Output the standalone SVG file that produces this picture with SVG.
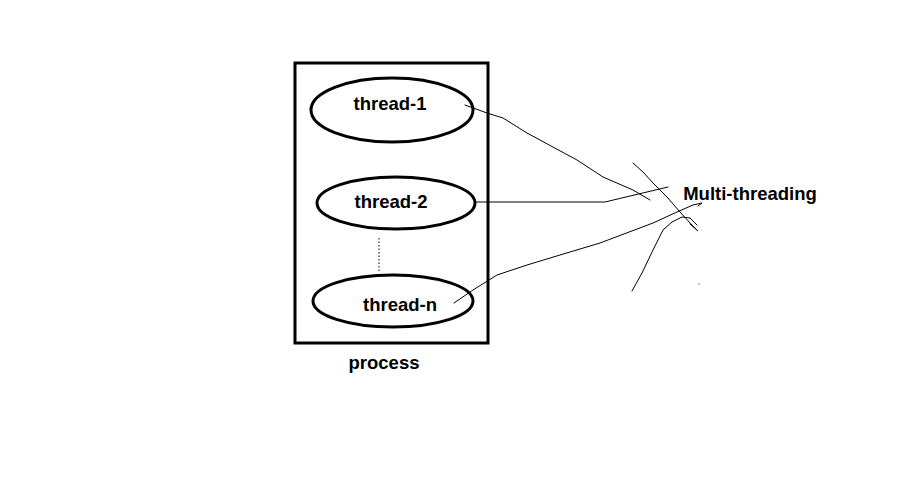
<svg xmlns="http://www.w3.org/2000/svg" width="918" height="498" viewBox="0 0 918 498">
<style>
.box{fill:none;stroke:#000;stroke-width:3}
.th{fill:#fff;stroke:#000;stroke-width:3}
.lbl{font-family:"Liberation Sans",Arial,sans-serif;font-weight:bold;font-size:18.5px;fill:#000;text-anchor:middle}
.ln{fill:none;stroke:#000;stroke-width:1;stroke-linejoin:round;stroke-linecap:round}
</style>
<rect width="918" height="498" fill="#fff"/>
<g id="process">
<rect class="box" x="295" y="63" width="193" height="280"/>
<text class="lbl" x="384" y="369">process</text>
</g>
<g id="thread-1">
<ellipse class="th" cx="392" cy="110" rx="81" ry="32"/>
<text class="lbl" x="390" y="110">thread-1</text>
</g>
<g id="thread-2">
<ellipse class="th" cx="396" cy="203" rx="79" ry="26"/>
<text class="lbl" x="391" y="208">thread-2</text>
</g>
<g id="thread-n">
<ellipse class="th" cx="393" cy="301" rx="80" ry="26"/>
<text class="lbl" x="400" y="311">thread-n</text>
</g>
<g id="multi-threading">
<text class="lbl" x="750" y="200">Multi-threading</text>
</g>
<g id="connectors">
<line x1="379" y1="238" x2="379" y2="273" stroke="#000" stroke-width="1" stroke-dasharray="1.5,2"/>
<polyline class="ln" points="465,105 487,113 503,118 527,133 577,160 603,177 633,190 650,200"/>
<polyline class="ln" points="475,202 605,202 668,187"/>
<polyline class="ln" points="454,303 473,290 497,275 527,265 560,255 600,243 653,223 677,212 693,205 702,203 698,206"/>
<polyline class="ln" points="633,163 643,172 653,183 667,197 680,212 692,225 698,231 690,224"/>
<polyline class="ln" points="632,291 642,273 653,250 663,230 672,222 682,217 690,218 697,225"/>
<circle cx="699" cy="284" r="0.6" fill="#000"/>
</g>
</svg>
